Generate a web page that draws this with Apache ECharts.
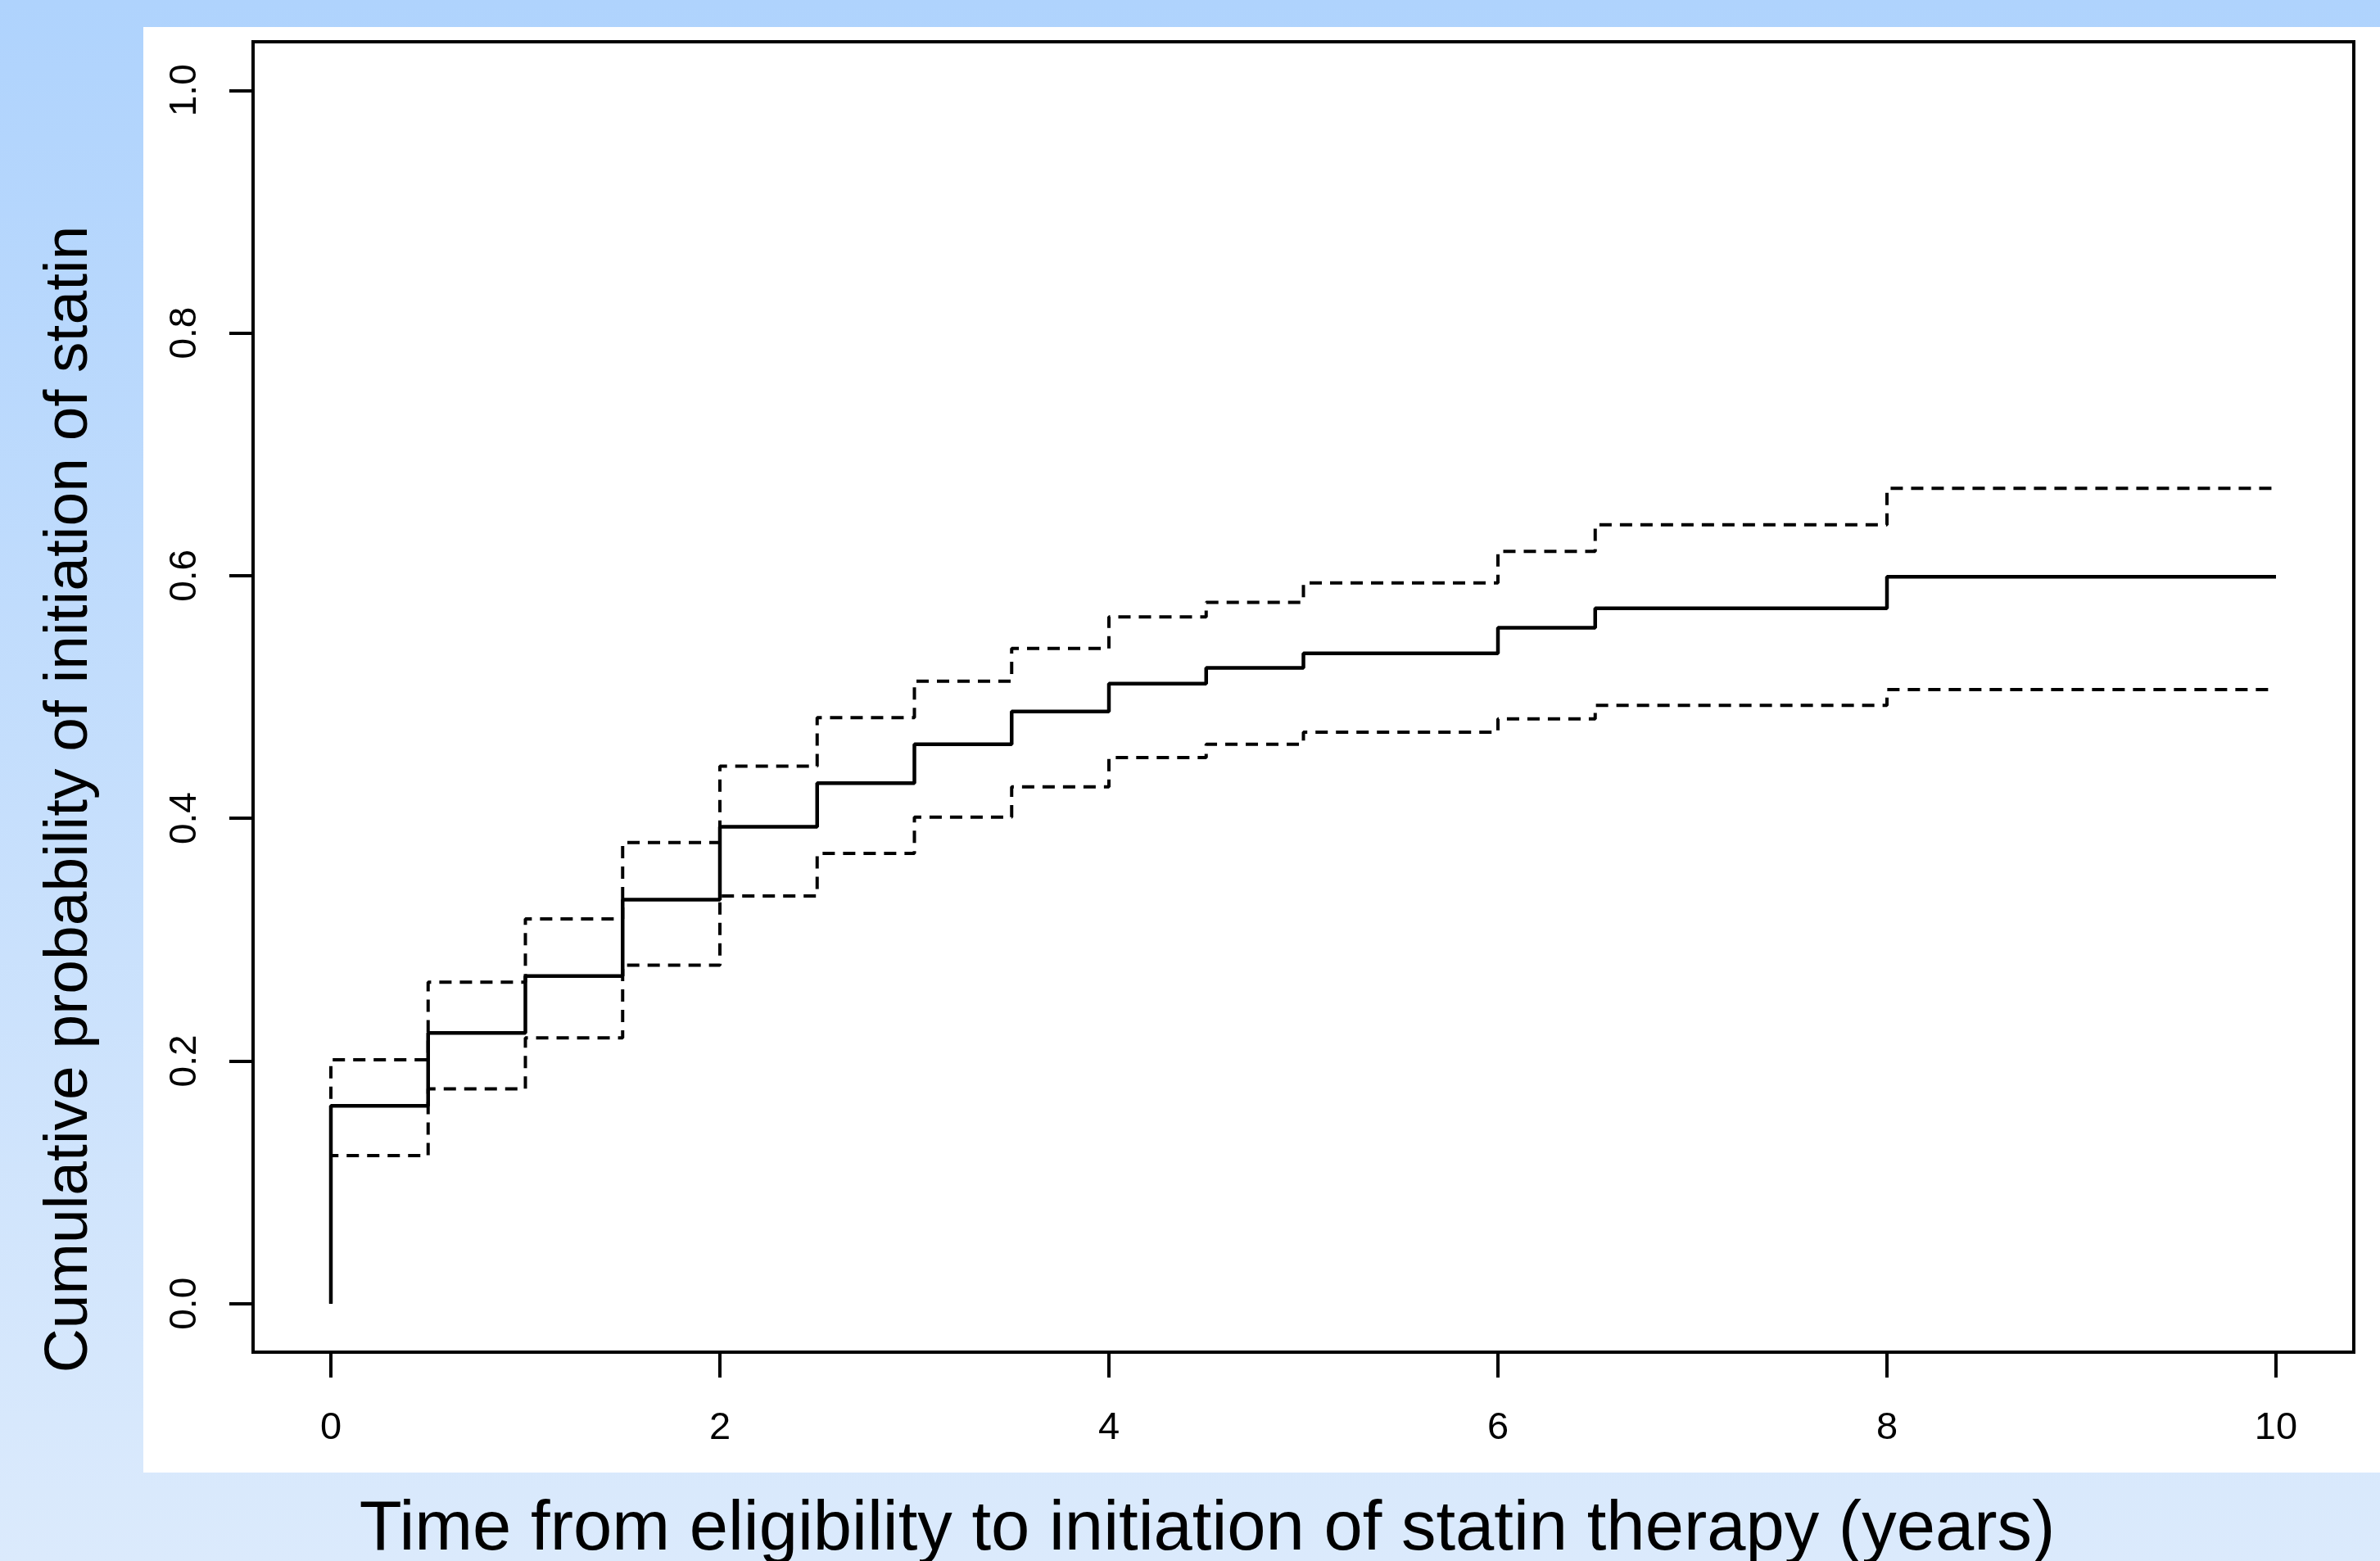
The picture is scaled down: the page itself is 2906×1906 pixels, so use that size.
<!DOCTYPE html>
<html>
<head>
<meta charset="utf-8">
<script src="https://cdn.jsdelivr.net/npm/echarts@6/dist/echarts.min.js"></script>
<style>
html,body{margin:0;padding:0;width:100%;height:100%;overflow:hidden;}
#chart{width:2906px;height:1906px;}
</style>
</head>
<body>
<div id="chart"></div>
<script>
// Data
const xTicks = [0, 2, 4, 6, 8, 10];
const yTicks = [0, 0.2, 0.4, 0.6, 0.8, 1.0];
const times = [0, 0, 0.5, 1, 1.5, 2, 2.5, 3, 3.5, 4, 4.5, 5, 6, 6.5, 8, 10];
const estimate = [0, 0.163, 0.223, 0.270, 0.333, 0.393, 0.429, 0.461, 0.488, 0.511, 0.524, 0.536, 0.557, 0.573, 0.599, 0.599];
const upper = [0, 0.201, 0.265, 0.317, 0.380, 0.443, 0.483, 0.513, 0.540, 0.566, 0.578, 0.594, 0.620, 0.642, 0.672, 0.672];
const lower = [0, 0.122, 0.177, 0.219, 0.279, 0.336, 0.371, 0.401, 0.426, 0.450, 0.461, 0.471, 0.482, 0.493, 0.506, 0.506];
const xTitle = 'Time from eligibility to initiation of statin therapy (years)';
const yTitle = 'Cumulative probability of initiation of statin';

const pairs = (ys) => times.map((t, i) => [t, ys[i]]);
const FONT = '"Liberation Sans", Arial, Helvetica, sans-serif';

const chart = echarts.init(document.getElementById('chart'), null, {renderer: 'canvas'});
chart.setOption({
  animation: false,
  backgroundColor: {
    type: 'linear', x: 0, y: 0, x2: 0, y2: 1,
    colorStops: [{offset: 0, color: '#afd3fd'}, {offset: 1, color: '#dbeafc'}]
  },
  graphic: [
    {type: 'rect', z: -10, shape: {x: 175, y: 33, width: 2731, height: 1765}, style: {fill: '#ffffff'}},
    {type: 'text', x: 1474, y: 1869, style: {text: xTitle, font: '85px ' + FONT, fill: '#000', textAlign: 'center', textVerticalAlign: 'middle'}},
    {type: 'text', x: 85, y: 976, rotation: Math.PI / 2, style: {text: yTitle, font: '75px ' + FONT, fill: '#000', textAlign: 'center', textVerticalAlign: 'middle'}}
  ],
  grid: {
    left: 309, right: 32, top: 51, bottom: 255,
    show: true, borderColor: '#000', borderWidth: 4, backgroundColor: 'transparent'
  },
  xAxis: {
    type: 'value', min: -0.4, max: 10.4,
    splitLine: {show: false},
    axisLine: {show: false, onZero: false},
    axisTick: {show: true, customValues: xTicks, length: 31, inside: false, lineStyle: {color: '#000', width: 4}},
    axisLabel: {show: true, customValues: xTicks, margin: 70, fontSize: 47, fontFamily: FONT, color: '#000',
      formatter: (v) => String(v)}
  },
  yAxis: {
    type: 'value', min: -0.04, max: 1.04,
    splitLine: {show: false},
    axisLine: {show: false, onZero: false},
    axisTick: {show: true, customValues: yTicks, length: 29, inside: false, lineStyle: {color: '#000', width: 4}},
    axisLabel: {show: true, customValues: yTicks, margin: 60, rotate: 90, fontSize: 46, fontFamily: FONT, color: '#000',
      formatter: (v) => v.toFixed(1)}
  },
  series: [
    {type: 'line', name: 'upper', data: pairs(upper), step: 'end', showSymbol: false, symbol: 'none', z: 2,
      lineStyle: {color: '#000', width: 4, type: [15, 10]}},
    {type: 'line', name: 'lower', data: pairs(lower), step: 'end', showSymbol: false, symbol: 'none', z: 2,
      lineStyle: {color: '#000', width: 4, type: [15, 10]}},
    {type: 'line', name: 'estimate', data: pairs(estimate), step: 'end', showSymbol: false, symbol: 'none', z: 3,
      lineStyle: {color: '#000', width: 4.5}}
  ]
});
</script>
</body>
</html>
